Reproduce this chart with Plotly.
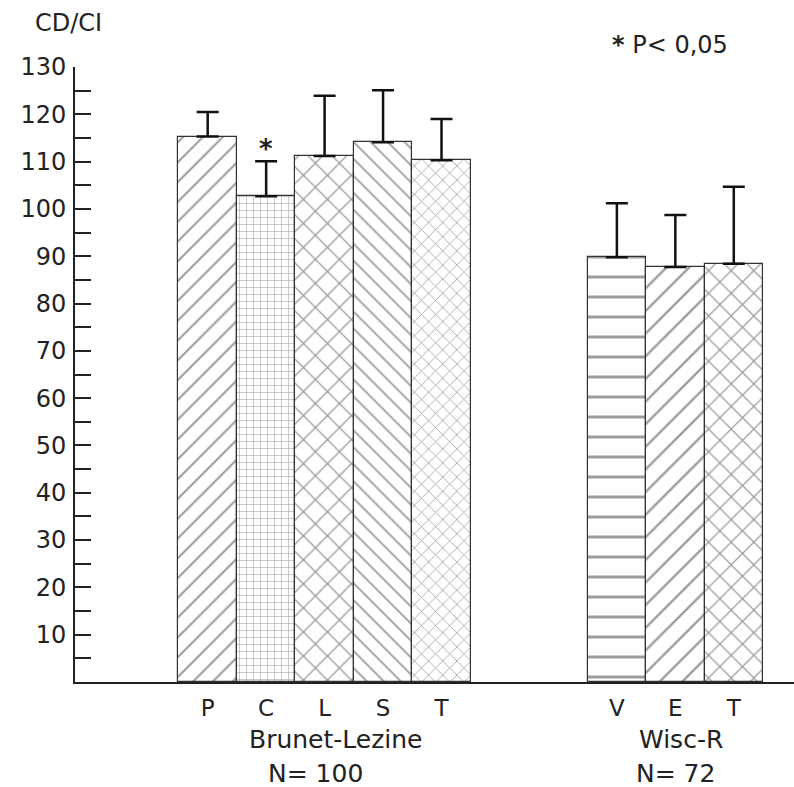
import plotly.graph_objects as go

# Data
categories = ["P", "C", "L", "S", "T", "V", "E", "T"]
positions = [0, 1, 2, 3, 4, 7, 8, 9]
groups = ["Brunet-Lezine", "Wisc-R"]
group_n = ["N= 100", "N= 72"]
values = [115.3, 102.7, 111.2, 114.1, 110.3, 89.8, 87.7, 88.4]
err_plus = [5.2, 7.4, 12.7, 11.0, 8.7, 11.4, 11.0, 16.3]
y_tick_vals = list(range(10, 131, 10))
y_tick_text = [str(v) for v in y_tick_vals]

patterns = ["/", "+", "x", "\\", "x", "-", "/", "x"]
pattern_sizes = [14, 7, 17, 12, 10, 20, 16, 16]

FONT = "DejaVu Sans"

fig = go.Figure()
fig.add_trace(go.Bar(
    x=positions,
    y=values,
    width=1.0,
    marker=dict(
        color="white",
        line=dict(color="#333", width=1.2),
        pattern=dict(shape=patterns, size=pattern_sizes, fgcolor="#3a3a3a",
                     bgcolor="white", solidity=0.15),
    ),
    error_y=dict(type="data", symmetric=False, array=err_plus,
                 arrayminus=[0] * len(err_plus), color="#111",
                 thickness=2.5, width=11),
    showlegend=False,
))

fig.update_layout(
    width=794, height=787,
    margin=dict(l=75, r=0, t=67, b=105),
    paper_bgcolor="white", plot_bgcolor="white",
    font=dict(family=FONT, size=24, color="#222"),
    bargap=0,
)
fig.update_xaxes(
    range=[-2.27, 10.03],
    tickvals=positions, ticktext=categories,
    showline=True, linecolor="#222", linewidth=2,
    ticks="", showgrid=False, zeroline=False,
    tickfont=dict(size=23), ticklabelstandoff=4,
)
fig.update_yaxes(
    range=[0, 130],
    tickvals=y_tick_vals, ticktext=y_tick_text,
    showline=True, linecolor="#222", linewidth=2,
    ticks="inside", ticklen=16, tickwidth=2, tickcolor="#222",
    minor=dict(ticks="inside", ticklen=16, tickwidth=2, tickcolor="#222",
               tickvals=[v - 5 for v in y_tick_vals]),
    showgrid=False, zeroline=False,
    tickfont=dict(size=24), ticklabelstandoff=2,
)

annotations = [
    dict(x=2.2, y=-0.0943, xref="x", yref="paper", text=groups[0],
         yanchor="middle", showarrow=False, font=dict(size=25)),
    dict(x=1.85, y=-0.148, xref="x", yref="paper", text=group_n[0],
         yanchor="middle", showarrow=False, font=dict(size=25)),
    dict(x=8.1, y=-0.0943, xref="x", yref="paper", text=groups[1],
         yanchor="middle", showarrow=False, font=dict(size=25)),
    dict(x=8.0, y=-0.148, xref="x", yref="paper", text=group_n[1],
         yanchor="middle", showarrow=False, font=dict(size=25)),
    dict(x=-0.058, y=1.0715, xref="paper", yref="paper", text="CD/CI",
         xanchor="left", yanchor="middle", showarrow=False, font=dict(size=24)),
    dict(x=0.744, y=1.0358, xref="paper", yref="paper", text="<b>*</b> P&lt; 0,05",
         xanchor="left", yanchor="middle", showarrow=False, font=dict(size=24)),
    dict(x=1, y=values[1] + err_plus[1] + 2.5, xref="x", yref="y",
         text="<b>*</b>", yanchor="middle", showarrow=False,
         font=dict(size=26, color="#222")),
]
fig.update_layout(annotations=annotations)

fig.write_html("out.html")
